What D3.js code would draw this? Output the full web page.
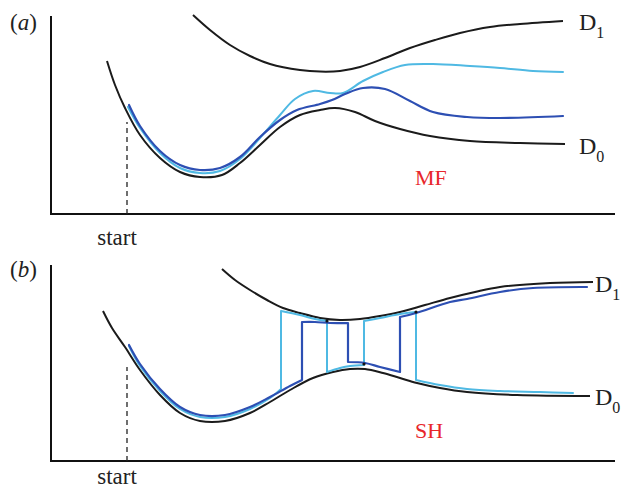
<!DOCTYPE html>
<html>
<head>
<meta charset="utf-8">
<script src="https://cdn.jsdelivr.net/npm/d3@7"></script>
<style>
  body { margin: 0; background: #fff; }
  svg { display: block; }
</style>
</head>
<body>
<svg id="chart" width="625" height="488"></svg>
<script>
// potential energy surfaces and trajectories, arbitrary units [x, y]
// panel (a): mean-field (MF)
var mfD0 = [[28,76.5],[32,64.5],[37,53],[44.5,39.5],[54.5,28],[64.5,21],[74.5,18.5],[85.5,19.5],
            [94.5,25.5],[104.5,34.5],[114.5,43.5],[124.5,49.5],[134.5,52],[142,53],[152,51],
            [162,46.5],[174.5,42.5],[189.5,39],[209.5,36.5],[234.5,35.5],[257,35]];
var mfD1 = [[71,99.5],[79.5,92],[89.5,84.5],[99.5,79],[109.5,75],[124.5,72],[134.5,71.2],[144.5,71.5],
            [154.5,73.5],[167,78],[179.5,83],[192,87],[204.5,90.5],[219.5,93.5],[234.5,95],[256,96.5]];
var mfTraj1 = [[38.5,53.5],[44.5,43],[54.5,30.5],[64.5,23],[74.5,20.5],[84.5,21.5],[94.5,27.5],
               [104.5,38],[114.5,49.5],[122,57.5],[131,61.5],[139.5,60.5],[146,60.5],[156,66.5],
               [166,71],[177,74.5],[191,75],[209.5,74],[224.5,73],[241,71.5],[256,71]];
var mfTraj2 = [[39,54.5],[44.5,44],[54.5,31.5],[64.5,24.5],[74.5,22],[84.5,23],[94.5,28.5],
               [104.5,38.5],[114.5,47],[123,52],[134.5,55],[140.5,57],[147,60],[156,63],
               [167,62.5],[179.5,56.5],[191,51],[208,48.5],[224.5,48],[256,49]];

// panel (b): surface hopping (SH)
var shD0 = [[26,75],[30.5,66.5],[37,57],[44.5,45.5],[54.5,33],[64.5,24],[74.5,20],[87,20],
            [99.5,24],[109.5,29.5],[119.5,35.5],[131,41.5],[141,44.5],[149.5,46],[157,46],
            [166,44],[174.5,41.5],[183,39],[194.5,36.5],[208,34.5],[233,33],[269.5,32.5]];
var shD1 = [[85.5,96],[92,90.5],[99.5,85.5],[108,80.5],[116,76.5],[124.5,74],[134.5,71.5],
            [144.5,70.5],[154.5,71],[164.5,72.5],[174.5,74.5],[187,78],[199.5,81.5],[212,84.5],
            [224.5,87],[249.5,89],[271,89.5]];
var shTraj1 = [[39,57.5],[44.5,47.5],[54.5,35],[64.5,26],[74.5,22],[87,22],[99.5,26],[109.5,31.5],
               [115,36],[115,75],[124.5,73],[132,71],[138,70],[138,44.5],[144.5,46.5],[149.5,47.5],
               [156.5,48],[156.5,70],[164.5,71.5],[174.5,73.5],[182.5,74.5],[182.5,40.5],
               [194.5,38],[208,36],[224.5,35],[244.5,34.5],[261,34]];
var shTraj2 = [[39,58],[44.5,48.5],[54.5,36],[64.5,27],[74.5,23],[87,23],[99.5,27],[109.5,32],
               [119.5,37.5],[125.5,40.5],[125.5,69.5],[132,69.5],[139.5,69],[148.5,69],[148.5,49.5],
               [157,49],[164.5,47],[174.5,44.5],[174.5,72],[182.5,74],[199.5,79.5],[208,81],
               [224.5,84.5],[241,86.5],[268,87]];
var shHops = [[138,70],[156.5,48.5],[182.5,74.5]];

var startX = 38;
var labels = ["(a)", "(b)"];
var methods = ["MF", "SH"];

var svg = d3.select("#chart");
var x = d3.scaleLinear().domain([0, 282]).range([51, 615]);

var BLACK = "#1b1b1b", CYAN = "#4fb9e3", BLUE = "#2d4fb3";
var serif = "'Liberation Serif', 'Times New Roman', Times, serif";

var panels = [
  {base: 214, top: 99, d0: mfD0, d1: mfD1, t1: mfTraj1, t2: mfTraj2, hops: [], dash: 46,
   label: labels[0], method: methods[0], mfy: 185, d1y: 30, d0y: 154, dx: 579, sy: 245},
  {base: 461, top: 98, d0: shD0, d1: shD1, t1: shTraj1, t2: shTraj2, hops: shHops, dash: 47,
   label: labels[1], method: methods[1], mfy: 438, d1y: 292, d0y: 405, dx: 595, sy: 484}
];

// break a trajectory into smooth pieces and straight vertical hops
function pieces(pts){
  var out = [], cur = [pts[0]];
  for (var i = 1; i < pts.length; i++){
    if (pts[i][0] === pts[i-1][0]){
      if (cur.length > 1) out.push(cur);
      out.push([pts[i-1], pts[i]]);
      cur = [pts[i]];
    } else {
      cur.push(pts[i]);
    }
  }
  if (cur.length > 1) out.push(cur);
  return out;
}

panels.forEach(function(p){
  var y = d3.scaleLinear().domain([0, 100]).range([p.base, p.base - 200]);
  var g = svg.append("g");

  var line = d3.line()
    .x(function(d){ return x(d[0]); })
    .y(function(d){ return y(d[1]); })
    .curve(d3.curveCatmullRom.alpha(0.5));

  // axes
  g.append("path")
    .attr("d", "M" + x(0) + "," + y(p.top) + "V" + y(0) + "H" + x(282))
    .attr("fill", "none").attr("stroke", "#111").attr("stroke-width", 2);

  // start marker
  g.append("line")
    .attr("x1", x(startX)).attr("x2", x(startX))
    .attr("y1", y(0)).attr("y2", y(p.dash))
    .attr("stroke", "#222").attr("stroke-width", 1.3)
    .attr("stroke-dasharray", "5,4");

  [p.d0, p.d1].forEach(function(c){
    g.append("path").attr("d", line(c))
      .attr("fill", "none").attr("stroke", BLACK).attr("stroke-width", 2);
  });

  [[p.t1, CYAN, 2], [p.t2, BLUE, 2.2]].forEach(function(t){
    var d = pieces(t[0]).map(function(seg){ return line(seg); }).join("");
    g.append("path").attr("d", d)
      .attr("fill", "none").attr("stroke", t[1]).attr("stroke-width", t[2])
      .attr("stroke-linejoin", "round").attr("stroke-linecap", "round");
  });

  g.selectAll("circle").data(p.hops).enter().append("circle")
    .attr("cx", function(d){ return x(d[0]); })
    .attr("cy", function(d){ return y(d[1]); })
    .attr("r", 1.6).attr("fill", "#111");

  // texts
  var lab = g.append("text").attr("x", 10).attr("y", p.base - (214 - 30))
    .attr("font-family", serif).attr("font-size", 23).attr("fill", "#222");
  lab.append("tspan").text("(");
  lab.append("tspan").attr("font-style", "italic").text(p.label.slice(1, 2));
  lab.append("tspan").text(")");

  g.append("text").attr("x", x(startX) - 10).attr("y", p.sy)
    .attr("text-anchor", "middle")
    .attr("font-family", serif).attr("font-size", 23).attr("fill", "#222")
    .text("start");

  g.append("text").attr("x", 415).attr("y", p.mfy)
    .attr("font-family", serif).attr("font-size", 22).attr("fill", "#e8262b")
    .text(p.method);

  [[p.d1y, "1"], [p.d0y, "0"]].forEach(function(l){
    var t = g.append("text").attr("x", p.dx).attr("y", l[0])
      .attr("font-family", serif).attr("font-size", 24).attr("fill", "#222");
    t.append("tspan").text("D");
    t.append("tspan").attr("font-size", 16).attr("dy", 8).text(l[1]);
  });
});
</script>
</body>
</html>
